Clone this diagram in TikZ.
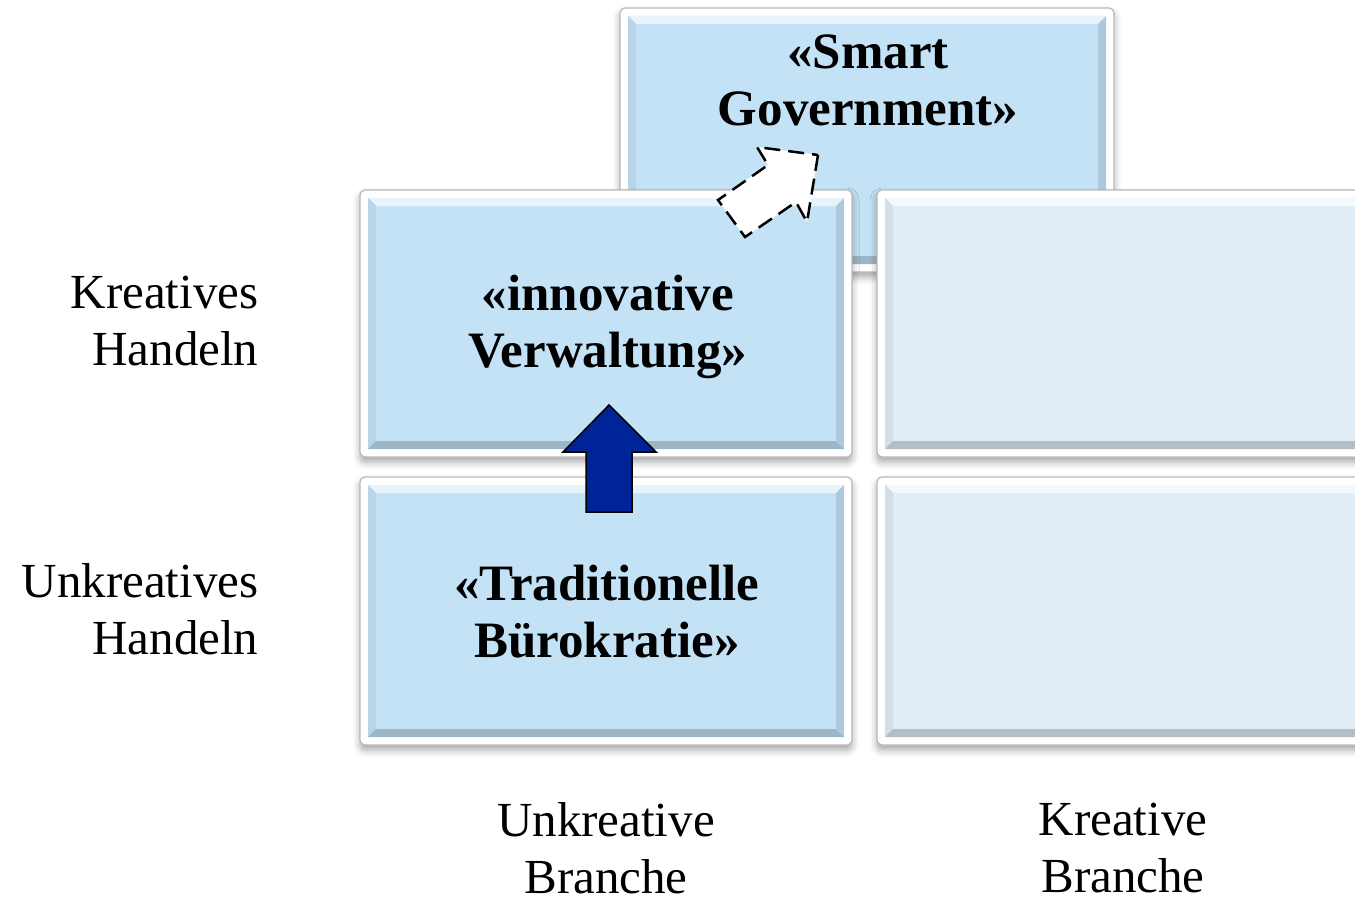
\documentclass[tikz,border=0pt]{standalone}
\usepackage{fontspec}
\setmainfont{Liberation Serif}
\usetikzlibrary{shadows.blur}

\definecolor{panelblue}{RGB}{196,226,245}
\definecolor{panelpale}{RGB}{224,237,246}
\definecolor{arrowblue}{RGB}{0,35,152}
\definecolor{framegrey}{RGB}{185,185,185}

\tikzset{
  frame/.style={fill=white, draw=framegrey, line width=1.2pt, rounded corners=5pt,
    blur shadow={shadow xshift=0pt, shadow yshift=-5pt,
                 shadow blur radius=7pt, shadow opacity=35}},
  title/.style={align=center, font=\fontsize{51}{57}\selectfont\bfseries},
  axislabel/.style={align=right, font=\fontsize{49}{57}\selectfont},
  branchlabel/.style={align=center, inner sep=0pt, font=\fontsize{49}{57}\selectfont},
}

% One panel: white frame, then the face inset by 8 with an 8 wide bevel.
% #1,#2 top left, #3,#4 bottom right (pixels, y downwards), #5 face colour.
\newcommand\panel[5]{%
  \path[frame] (#1,#2) rectangle (#3,#4);
  \fill[#5] (#1+8,#2+8) rectangle (#3-8,#4-8);
  \fill[#5!40!white] (#1+8,#2+8) -- (#3-8,#2+8) -- (#3-16,#2+16) -- (#1+16,#2+16) -- cycle;
  \fill[#5!94!black] (#1+8,#2+8) -- (#1+16,#2+16) -- (#1+16,#4-16) -- (#1+8,#4-8) -- cycle;
  \fill[#5!80!black] (#1+8,#4-8) -- (#3-8,#4-8) -- (#3-16,#4-16) -- (#1+16,#4-16) -- cycle;
  \fill[#5!89!black] (#3-8,#2+8) -- (#3-8,#4-8) -- (#3-16,#4-16) -- (#3-16,#2+16) -- cycle;
}

\begin{document}
\begin{tikzpicture}[x=1pt, y=-1pt]
\useasboundingbox (0,0) rectangle (1355,899);
\clip (0,0) rectangle (1355,899);

% Panels back to front, the top one is partly hidden.
\panel{620}{8}{1114}{272}{panelblue}
\foreach \ya/\yb in {190/457, 477/745} {
  \panel{360}{\ya}{852}{\yb}{panelblue}
  \panel{877}{\ya}{1380}{\yb}{panelpale}
}

% Box titles
\node[title] (smart) at (868,80) {«Smart\\Government»};
\node[title] (innov) at (608,327) {«innovative\\Verwaltung»};
\node[title] (trad)  at (607,612) {«Traditionelle\\Bürokratie»};

% Row and column labels
\node[axislabel, anchor=east] (kreahand)   at (262,321) {Kreatives\\Handeln};
\node[axislabel, anchor=east] (unkreahand) at (262,609) {Unkreatives\\Handeln};
\node[branchlabel] (unkreabr) at (606,848) {Unkreative\\Branche};
\node[branchlabel] (kreabr)   at (1123,848) {Kreative\\Branche};

% The two block arrows
\draw[fill=arrowblue, line width=1.5pt, line join=miter]
  (609,405) -- (656,452) -- (632,452) -- (632,512)
  -- (586,512) -- (586,452) -- (563,452) -- cycle;

\draw[fill=white, line width=2.5pt, dash pattern=on 16pt off 8pt]
  (818,155) -- (807,222) -- (796,202) -- (745,237)
  -- (718,200) -- (768,165) -- (757,147) -- cycle;
\end{tikzpicture}
\end{document}
